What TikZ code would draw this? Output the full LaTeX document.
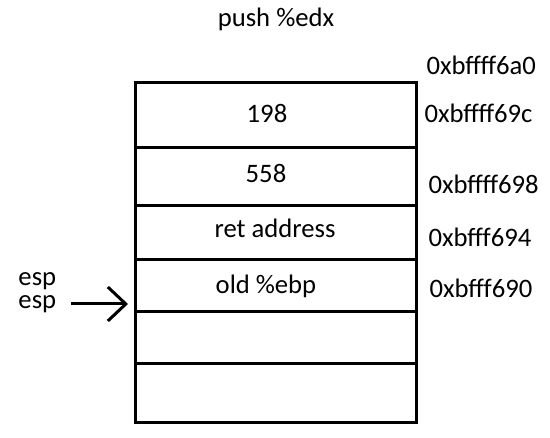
\documentclass[tikz,border=0pt]{standalone}
\usepackage{fontspec}
\setmainfont{Carlito}
\usetikzlibrary{arrows.meta,calc,positioning}
\tikzset{
    every node/.style={font=\fontsize{20}{17.25}\selectfont},
    cell/.style ={rectangle, draw, outer sep=0pt, inner sep=0pt, minimum width=210.75pt},
    txt/.style = {anchor=base, inner sep=0pt},
    addr/.style = {anchor=base west, inner sep=0pt},
    pointer/.style={-{Straight Barb[length=13.5pt,width=25.5pt]}, shorten >=5.25pt}
}
\begin{document}
\begin{tikzpicture}[x=0.75pt,y=-0.75pt,line width=2.25pt]
    \useasboundingbox (0,0) rectangle (550,438);
    \node[txt] (title) at (276,27) {push \%edx};

    % stack cells
    \node[cell,minimum height=48.75pt] (c1) at (275.5,115.5) {};
    \node[cell,minimum height=43.5pt] (c2) [below =0pt of c1] {};
    \node[cell,minimum height=40.5pt] (c3) [below =0pt of c2] {};
    \node[cell,minimum height=39pt] (c4) [below =0pt of c3] {};
    \node[cell,minimum height=39pt] (c5) [below =0pt of c4] {};
    \node[cell,minimum height=43.5pt] (c6) [below =0pt of c5] {};

    \node[txt] (v1) at (267,123) {198};
    \node[txt] (v2) at (266,183) {558};
    \node[txt] (v3) at (275,238) {ret address};
    \node[txt] (v4) at (266,294) {old \%ebp};

    % addresses
    \node[addr] (a0) at (425,75) {0xbffff6a0};
    \node[addr] (a1) at (423,123) {0xbffff69c};
    \node[addr] (a2) at (427,194) {0xbffff698};
    \node[addr] (a3) at (427,247) {0xbfff694};
    \node[addr] (a4) at (428,298) {0xbfff690};

    \node[addr,align=left] (esp) at (17,309) {esp\\esp};
    \coordinate (tail) at (71,304);
    \draw[pointer] (tail) -- (tail -| c4.west);
\end{tikzpicture}
\end{document}
